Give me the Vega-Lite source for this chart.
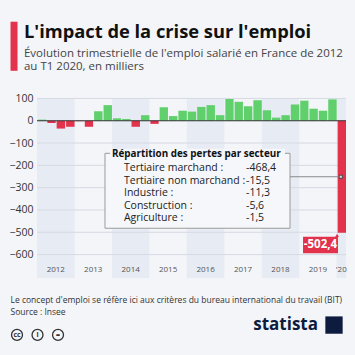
{
  "$schema": "https://vega.github.io/schema/vega-lite/v6.json",
  "width": 309,
  "height": 180,
  "autosize": {"type": "none"},
  "padding": {"left": 37, "top": 98, "right": 9, "bottom": 77},
  "background": "#f3f5f9",
  "config": {
    "view": {"stroke": null},
    "font": "Open Sans",
    "axisX": {"labels": false, "ticks": false, "domain": false, "grid": false},
    "axisY": {"grid": false, "domain": false, "ticks": false, "labelPadding": 4, "labelFontSize": 10.5, "labelColor": "#333333", "labelFont": "Open Sans", "labelOverlap": false, "tickCount": 9, "values": [100, 0, -100, -200, -300, -400, -500, -600], "labelExpr": "datum.value < -650 ? '' : datum.label"}
  },
  "datasets": {
    "jobs": [
      {"date": "2012-01-01", "value": 5}, {"date": "2012-04-01", "value": -10}, {"date": "2012-07-01", "value": -35}, {"date": "2012-10-01", "value": -27},
      {"date": "2013-01-01", "value": -2}, {"date": "2013-04-01", "value": -27}, {"date": "2013-07-01", "value": 43}, {"date": "2013-10-01", "value": 70},
      {"date": "2014-01-01", "value": 11}, {"date": "2014-04-01", "value": 8}, {"date": "2014-07-01", "value": -27}, {"date": "2014-10-01", "value": 25},
      {"date": "2015-01-01", "value": -14}, {"date": "2015-04-01", "value": 60}, {"date": "2015-07-01", "value": 21}, {"date": "2015-10-01", "value": 45},
      {"date": "2016-01-01", "value": 41}, {"date": "2016-04-01", "value": 62}, {"date": "2016-07-01", "value": 70}, {"date": "2016-10-01", "value": 25},
      {"date": "2017-01-01", "value": 98}, {"date": "2017-04-01", "value": 85}, {"date": "2017-07-01", "value": 65}, {"date": "2017-10-01", "value": 92},
      {"date": "2018-01-01", "value": 47}, {"date": "2018-04-01", "value": 14}, {"date": "2018-07-01", "value": 25}, {"date": "2018-10-01", "value": 73},
      {"date": "2019-01-01", "value": 90}, {"date": "2019-04-01", "value": 54}, {"date": "2019-07-01", "value": 45}, {"date": "2019-10-01", "value": 96},
      {"date": "2020-01-01", "value": -502.4}
    ],
    "shade": [
      {"start": "2012-01-01", "end": "2013-01-01"},
      {"start": "2014-01-01", "end": "2015-01-01"},
      {"start": "2016-01-01", "end": "2017-01-01"},
      {"start": "2018-01-01", "end": "2019-01-01"},
      {"start": "2020-01-01", "end": "2020-04-01"}
    ],
    "years": [
      {"label": "2012", "mid": "2012-07-02"}, {"label": "2013", "mid": "2013-07-02"}, {"label": "2014", "mid": "2014-07-02"},
      {"label": "2015", "mid": "2015-07-02"}, {"label": "2016", "mid": "2016-07-02"}, {"label": "2017", "mid": "2017-07-02"},
      {"label": "2018", "mid": "2018-07-02"}, {"label": "2019", "mid": "2019-07-02"}, {"label": "'20", "mid": "2020-02-15"}
    ],
    "grid": [{"v": 100}, {"v": -100}, {"v": -200}, {"v": -300}, {"v": -400}, {"v": -500}, {"v": -600}],
    "icons": [
      {"sym": "cc", "d": "2011-06-20"}, {"sym": "i", "d": "2012-01-06"}, {"sym": "=", "d": "2012-07-24"}
    ]
  },
  "layer": [
    {
      "data": {"name": "shade"},
      "mark": {"type": "rect", "color": "#e7ebf3"},
      "encoding": {
        "x": {"field": "start", "type": "temporal"},
        "x2": {"field": "end"},
        "y": {"datum": 102, "type": "quantitative"},
        "y2": {"datum": -705}
      }
    },
    {
      "data": {"name": "grid"},
      "mark": {"type": "rule", "color": "#d5dae3", "strokeWidth": 1},
      "encoding": {"y": {"field": "v", "type": "quantitative"}}
    },
    {
      "data": {"name": "jobs"},
      "mark": {"type": "bar", "timeUnitBandSize": 0.8},
      "encoding": {
        "x": {
          "field": "date", "timeUnit": "utcyearquarter", "type": "temporal",
          "scale": {"type": "utc", "domain": [{"year": 2012, "month": 1, "date": 1, "utc": true}, {"year": 2020, "month": 4, "date": 1, "utc": true}]},
          "axis": {
            "title": ["Le concept d'emploi se réfère ici aux critères du bureau international du travail (BIT)", "Source : Insee"],
            "titleAnchor": "start", "titleAlign": "left", "titleX": -27, "titleY": 24, "titleBaseline": "alphabetic", "titleLimit": 400,
            "titleFont": "Open Sans", "titleFontSize": 8.5, "titleFontWeight": "normal", "titleColor": "#333333", "titleLineHeight": 12.5
          }
        },
        "y": {
          "field": "value", "type": "quantitative",
          "scale": {"domain": [-705, 102], "nice": false, "zero": false},
          "axis": {"values": [100, 0, -100, -200, -300, -400, -500, -600], "title": null, "labelOverlap": false}
        },
        "color": {"condition": {"test": "datum.value < 0", "value": "#e3324b"}, "value": "#60d06c"}
      }
    },
    {
      "data": {"values": [{}]},
      "mark": {"type": "rule", "color": "#333333", "strokeWidth": 1},
      "encoding": {"y": {"datum": 0, "type": "quantitative"}}
    },
    {
      "data": {"values": [{}]},
      "mark": {"type": "rect", "fill": "#f6f7fa", "stroke": "#9a9a9a", "strokeWidth": 1},
      "encoding": {
        "x": {"datum": {"year": 2013, "month": 10, "date": 25, "utc": true}, "type": "temporal"},
        "x2": {"datum": {"year": 2018, "month": 10, "date": 3, "utc": true}},
        "y": {"datum": -146, "type": "quantitative"},
        "y2": {"datum": -482}
      }
    },
    {
      "data": {"values": [{}]},
      "mark": {"type": "rect", "fill": "#f6f7fa"},
      "encoding": {
        "x": {"datum": {"year": 2013, "month": 12, "date": 13, "utc": true}, "type": "temporal"},
        "x2": {"datum": {"year": 2018, "month": 8, "date": 15, "utc": true}},
        "y": {"datum": -125, "type": "quantitative"},
        "y2": {"datum": -168}
      }
    },
    {
      "data": {"values": [{}]},
      "mark": {"type": "text", "text": "Répartition des pertes par secteur", "font": "Open Sans", "fontWeight": "bold", "fontSize": 9.9, "color": "#111111", "align": "left", "baseline": "middle"},
      "encoding": {
        "x": {"datum": {"year": 2014, "month": 1, "date": 1, "utc": true}, "type": "temporal"},
        "y": {"datum": -150, "type": "quantitative"}
      }
    },
    {
      "data": {"values": [{}]},
      "mark": {"type": "text", "text": ["Tertiaire marchand :", "Tertiaire non marchand :", "Industrie :", "Construction :", "Agriculture :"], "lineHeight": 12.5, "font": "Open Sans", "fontSize": 10.5, "color": "#222222", "align": "left", "baseline": "middle"},
      "encoding": {
        "x": {"datum": {"year": 2014, "month": 4, "date": 28, "utc": true}, "type": "temporal"},
        "y": {"datum": -213, "type": "quantitative"}
      }
    },
    {
      "data": {"values": [{}]},
      "mark": {"type": "text", "text": ["-468,4", "-15,5", "-11,3", "-5,6", "-1,5"], "lineHeight": 12.5, "font": "Open Sans", "fontSize": 10.5, "color": "#222222", "align": "left", "baseline": "middle"},
      "encoding": {
        "x": {"datum": {"year": 2017, "month": 7, "date": 31, "utc": true}, "type": "temporal"},
        "y": {"datum": -213, "type": "quantitative"}
      }
    },
    {
      "data": {"values": [{}]},
      "mark": {"type": "rule", "color": "#8a8a8a", "strokeWidth": 1},
      "encoding": {
        "x": {"datum": {"year": 2018, "month": 10, "date": 3, "utc": true}, "type": "temporal"},
        "x2": {"datum": {"year": 2020, "month": 2, "date": 10, "utc": true}},
        "y": {"datum": -251, "type": "quantitative"}
      }
    },
    {
      "data": {"values": [{}]},
      "mark": {"type": "point", "shape": "square", "size": 10, "filled": true, "fill": "#dddddd", "stroke": "#444444", "strokeWidth": 1, "opacity": 1},
      "encoding": {
        "x": {"datum": {"year": 2020, "month": 2, "date": 10, "utc": true}, "type": "temporal"},
        "y": {"datum": -251, "type": "quantitative"}
      }
    },
    {
      "data": {"values": [{}]},
      "mark": {"type": "rect", "fill": "#e3324b"},
      "encoding": {
        "x": {"datum": {"year": 2019, "month": 2, "date": 7, "utc": true}, "type": "temporal"},
        "x2": {"datum": {"year": 2020, "month": 1, "date": 14, "utc": true}},
        "y": {"datum": -520, "type": "quantitative"},
        "y2": {"datum": -594}
      }
    },
    {
      "data": {"values": [{}]},
      "mark": {"type": "point", "shape": "triangle-up", "size": 14, "filled": true, "color": "#e3324b", "opacity": 1},
      "encoding": {
        "x": {"datum": {"year": 2020, "month": 1, "date": 5, "utc": true}, "type": "temporal"},
        "y": {"datum": -514, "type": "quantitative"}
      }
    },
    {
      "data": {"values": [{}]},
      "mark": {"type": "text", "text": "-502,4", "font": "Open Sans", "fontWeight": "bold", "fontSize": 11.5, "color": "#ffffff", "align": "center", "baseline": "middle"},
      "encoding": {
        "x": {"datum": {"year": 2019, "month": 7, "date": 27, "utc": true}, "type": "temporal"},
        "y": {"datum": -557, "type": "quantitative"}
      }
    },
    {
      "data": {"name": "years"},
      "mark": {"type": "text", "font": "Open Sans", "fontSize": 8, "color": "#555555", "align": "center", "baseline": "middle"},
      "encoding": {
        "x": {"field": "mid", "type": "temporal"},
        "y": {"datum": -669, "type": "quantitative"},
        "text": {"field": "label"}
      }
    },
    {
      "data": {"values": [{}]},
      "mark": {"type": "rule", "color": "#e3324b", "strokeWidth": 7},
      "encoding": {
        "x": {"datum": {"year": 2011, "month": 5, "date": 22, "utc": true}, "type": "temporal"},
        "y": {"datum": 444, "type": "quantitative"},
        "y2": {"datum": 224}
      }
    },
    {
      "data": {"values": [{}]},
      "mark": {"type": "text", "text": "L'impact de la crise sur l'emploi", "font": "Open Sans", "fontWeight": "bold", "fontSize": 18.3, "color": "#111111", "align": "left", "baseline": "alphabetic"},
      "encoding": {
        "x": {"datum": {"year": 2011, "month": 8, "date": 27, "utc": true}, "type": "temporal"},
        "y": {"datum": 371, "type": "quantitative"}
      }
    },
    {
      "data": {"values": [{}]},
      "mark": {"type": "text", "text": ["Évolution trimestrielle de l'emploi salarié en France de 2012", "au T1 2020, en milliers"], "lineHeight": 12.5, "font": "Open Sans", "fontSize": 11.5, "color": "#444444", "align": "left", "baseline": "alphabetic"},
      "encoding": {
        "x": {"datum": {"year": 2011, "month": 8, "date": 27, "utc": true}, "type": "temporal"},
        "y": {"datum": 284, "type": "quantitative"}
      }
    },
    {
      "data": {"values": [{}]},
      "mark": {"type": "text", "text": "statista", "font": "Open Sans", "fontWeight": "bold", "fontSize": 17, "color": "#0d1b3e", "align": "right", "baseline": "middle"},
      "encoding": {
        "x": {"datum": {"year": 2019, "month": 7, "date": 3, "utc": true}, "type": "temporal"},
        "y": {"datum": -916, "type": "quantitative"}
      }
    },
    {
      "data": {"values": [{}]},
      "mark": {"type": "point", "shape": "square", "size": 300, "filled": true, "color": "#0d1b3e", "opacity": 1},
      "encoding": {
        "x": {"datum": {"year": 2019, "month": 12, "date": 6, "utc": true}, "type": "temporal"},
        "y": {"datum": -916, "type": "quantitative"}
      }
    },
    {
      "data": {"name": "icons"},
      "mark": {"type": "point", "shape": "circle", "size": 120, "filled": false, "stroke": "#333333", "strokeWidth": 1.3, "opacity": 1},
      "encoding": {
        "x": {"field": "d", "type": "temporal"},
        "y": {"datum": -960, "type": "quantitative"}
      }
    },
    {
      "data": {"name": "icons"},
      "mark": {"type": "text", "font": "Open Sans", "fontWeight": "bold", "fontSize": 7, "color": "#333333", "align": "center", "baseline": "middle"},
      "encoding": {
        "x": {"field": "d", "type": "temporal"},
        "y": {"datum": -960, "type": "quantitative"},
        "text": {"field": "sym"}
      }
    }
  ]
}
